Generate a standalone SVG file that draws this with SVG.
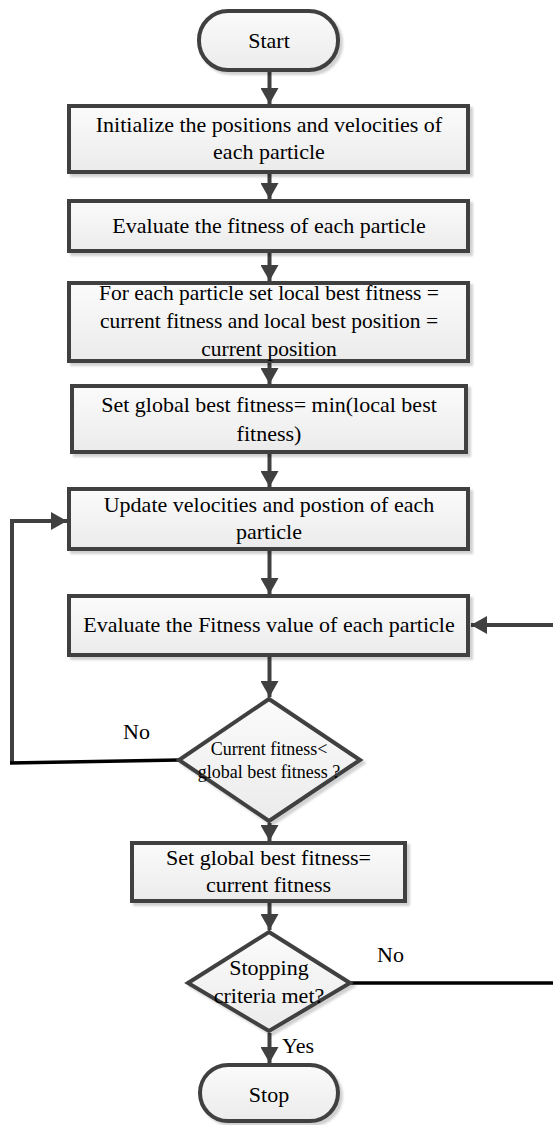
<svg xmlns="http://www.w3.org/2000/svg" width="553" height="1125" viewBox="0 0 553 1125">
<style>
.node{fill:url(#g);stroke:#404040;stroke-width:4;filter:url(#sh)}
text{font-family:'Liberation Serif','Tinos','Times New Roman','DejaVu Serif',serif;font-size:22px;fill:#000}
.t{text-anchor:middle}
.s3{font-size:21.5px}
.s18{font-size:18px}
.c{fill:none;stroke:#404040;stroke-width:4}
.k{fill:none;stroke:#000;stroke-width:3.5}
</style>
<defs>
<linearGradient id="g" x1="0" y1="0" x2="0" y2="1">
<stop offset="0" stop-color="#fbfbfb"/>
<stop offset="1" stop-color="#ebebeb"/>
</linearGradient>
<filter id="sh" x="-10%" y="-10%" width="130%" height="140%">
<feDropShadow dx="3" dy="3" stdDeviation="1.2" flood-color="#000" flood-opacity="0.18"/>
</filter>
<marker id="a" markerUnits="userSpaceOnUse" markerWidth="18" markerHeight="18" refX="16" refY="9" orient="auto">
<path d="M0,0 L16,9 L0,18 z" fill="#404040"/>
</marker>
</defs>
<g id="connectors">
<line class="c" x1="269.5" y1="72" x2="269.5" y2="104" marker-end="url(#a)"/>
<line class="c" x1="269.5" y1="174" x2="269.5" y2="199" marker-end="url(#a)"/>
<line class="c" x1="269.5" y1="253" x2="269.5" y2="281" marker-end="url(#a)"/>
<line class="c" x1="269.5" y1="363" x2="269.5" y2="384" marker-end="url(#a)"/>
<line class="c" x1="269.5" y1="454" x2="269.5" y2="487" marker-end="url(#a)"/>
<line class="c" x1="269.5" y1="551" x2="269.5" y2="594" marker-end="url(#a)"/>
<line class="c" x1="269.5" y1="657" x2="269.5" y2="697" marker-end="url(#a)"/>
<line class="c" x1="269.5" y1="823" x2="269.5" y2="841" marker-end="url(#a)"/>
<line class="c" x1="269.5" y1="903" x2="269.5" y2="930" marker-end="url(#a)"/>
<line class="c" x1="269.5" y1="1033" x2="269.5" y2="1063" marker-end="url(#a)"/>
<polyline class="c" points="12,763 12,521 67,521" marker-end="url(#a)"/>
<line class="k" x1="179" y1="760" x2="10" y2="763"/>
<line class="k" x1="351" y1="983" x2="553" y2="983"/>
<line class="c" x1="553" y1="625" x2="471" y2="625" marker-end="url(#a)"/>
</g>
<g id="start">
<rect class="node" x="199" y="11" width="139" height="59" rx="29"/>
<text class="t" x="269" y="48">Start</text>
</g>
<g id="init">
<rect class="node" x="69" y="106" width="399" height="66"/>
<text class="t" x="269" y="132">Initialize the positions and velocities of</text>
<text class="t" x="269" y="159">each particle</text>
</g>
<g id="eval1">
<rect class="node" x="69" y="201" width="399" height="50"/>
<text class="t" x="269" y="233">Evaluate the fitness of each particle</text>
</g>
<g id="localbest">
<rect class="node" x="69" y="283" width="399" height="78"/>
<text class="t s3" x="269" y="300">For each particle set local best fitness =</text>
<text class="t s3" x="269" y="328">current fitness and local best position =</text>
<text class="t s3" x="269" y="356">current position</text>
</g>
<g id="globalbest">
<rect class="node" x="72" y="386" width="394" height="66"/>
<text class="t" x="269" y="412">Set global best fitness= min(local best</text>
<text class="t" x="269" y="441">fitness)</text>
</g>
<g id="update">
<rect class="node" x="69" y="489" width="399" height="60"/>
<text class="t" x="269" y="512">Update velocities and postion of each</text>
<text class="t" x="269" y="539">particle</text>
</g>
<g id="eval2">
<rect class="node" x="69" y="596" width="399" height="59"/>
<text class="t" x="269" y="632">Evaluate the Fitness value of each particle</text>
</g>
<g id="decision1">
<polygon class="node" points="269,699 360,760 269,821 179,760"/>
<text class="t s18" x="269" y="755">Current fitness&lt;</text>
<text class="t s18" x="269" y="778">global best fitness ?</text>
</g>
<g id="setglobal">
<rect class="node" x="132" y="843" width="273" height="58"/>
<text class="t" x="268.5" y="865">Set global best fitness=</text>
<text class="t" x="268.5" y="892">current fitness</text>
</g>
<g id="decision2">
<polygon class="node" points="269,932 350,983 269,1031 188,983"/>
<text class="t" x="269" y="975">Stopping</text>
<text class="t" x="269" y="1003">criteria met?</text>
</g>
<g id="stop">
<rect class="node" x="200" y="1065" width="138" height="56" rx="28"/>
<text class="t" x="269" y="1102">Stop</text>
</g>
<g id="labels">
<text x="123" y="739">No</text>
<text x="377" y="962">No</text>
<text x="282" y="1053">Yes</text>
</g>
</svg>
